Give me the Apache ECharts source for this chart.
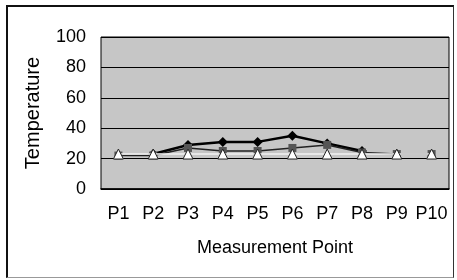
<!DOCTYPE html>
<html>
<head>
<meta charset="utf-8">
<script src="https://cdn.jsdelivr.net/npm/echarts@6/dist/echarts.min.js"></script>
<style>
  html, body { margin: 0; padding: 0; background: #fff; }
  #wrap { position: relative; width: 457px; height: 280px; }
  #chart { width: 457px; height: 280px; }
  #frame {
    position: absolute; left: 6px; top: 5px; width: 445px; height: 270px;
    border-left: 2px solid #111; border-top: 2px solid #111;
    border-right: 1px solid #333; border-bottom: 1px solid #999;
    pointer-events: none;
  }
</style>
</head>
<body>
<div id="wrap">
  <div id="chart"></div>
  <div id="frame"></div>
</div>
<script>
const categories = ['P1', 'P2', 'P3', 'P4', 'P5', 'P6', 'P7', 'P8', 'P9', 'P10']
const maxTemp = [null, 23, 29, 31, 31, 35, 30, 25, null, null]
const midTemp = [22, 22, 27, 25, 25, 27, 29, 24, 23, 23]
const minTemp = [23, 23, 23, 23, 23, 23, 23, 23, 23, 23]
const yTicks = { min: 0, max: 100, interval: 20 }

const font = "'Liberation Sans', Arial, sans-serif"

const chart = echarts.init(document.getElementById('chart'))
chart.setOption({
  backgroundColor: 'transparent',
  animation: false,
  textStyle: { fontFamily: font, color: '#000' },
  grid: {
    left: 101,
    right: 8,
    top: 37,
    bottom: 91,
    show: true,
    backgroundColor: '#c6c6c6',
    borderColor: '#000',
    borderWidth: 1
  },
  xAxis: {
    type: 'category',
    data: categories,
    boundaryGap: true,
    name: 'Measurement Point',
    nameLocation: 'middle',
    nameGap: 50,
    nameTextStyle: { fontFamily: font, fontSize: 18, color: '#000' },
    axisLine: { lineStyle: { color: '#000', width: 1.5 } },
    axisTick: { inside: true, length: 4, lineStyle: { color: '#000' } },
    axisLabel: { fontFamily: font, fontSize: 18, color: '#000', margin: 16, interval: 0 }
  },
  yAxis: {
    type: 'value',
    min: yTicks.min,
    max: yTicks.max,
    interval: yTicks.interval,
    name: 'Temperature',
    nameLocation: 'middle',
    nameGap: 58,
    nameTextStyle: {
      fontFamily: font, fontSize: 20, color: '#000',
      width: 118, overflow: 'truncate', ellipsis: ''
    },
    axisLine: { show: false },
    axisTick: { show: false },
    axisLabel: { fontFamily: font, fontSize: 18, color: '#000', margin: 15 },
    splitLine: { lineStyle: { color: '#000', width: 1 } }
  },
  series: [
    {
      name: 'Max',
      type: 'line',
      data: maxTemp,
      symbol: 'diamond',
      symbolSize: 10,
      lineStyle: { color: '#000', width: 2.5 },
      itemStyle: { color: '#000' },
      z: 2
    },
    {
      name: 'Mid',
      type: 'line',
      data: midTemp,
      symbol: 'rect',
      symbolSize: 8,
      lineStyle: { color: '#222', width: 1.5 },
      itemStyle: { color: '#555' },
      z: 3
    },
    {
      name: 'Min',
      type: 'line',
      data: minTemp,
      symbol: 'triangle',
      symbolSize: 10,
      lineStyle: { color: '#f2f2f2', width: 1.5 },
      itemStyle: { color: '#fff', borderColor: '#222', borderWidth: 1 },
      z: 4
    }
  ]
})
</script>
</body>
</html>
